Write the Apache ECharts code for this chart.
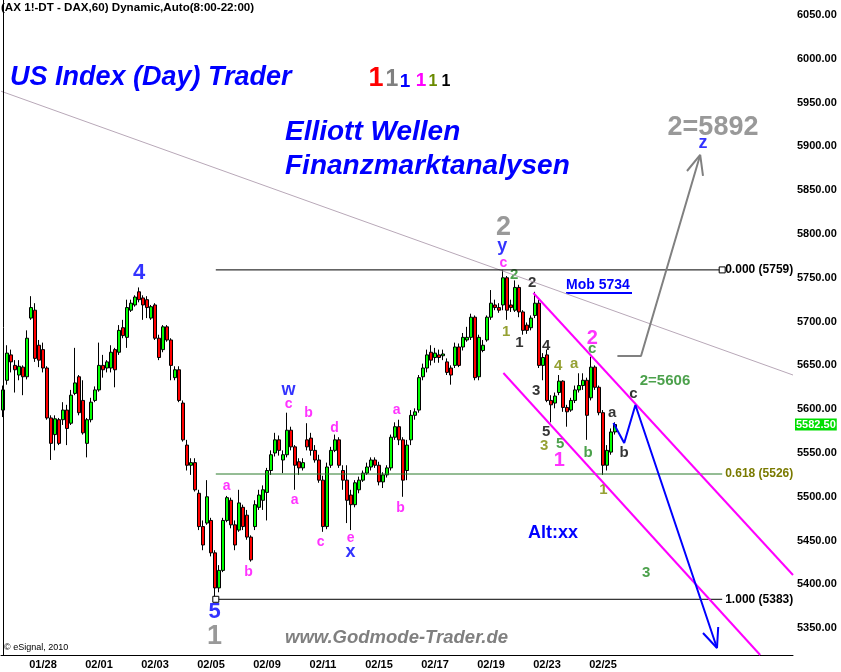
<!DOCTYPE html>
<html>
<head>
<meta charset="utf-8">
<title>DAX 60 - Elliott Wellen</title>
<script src="https://cdn.jsdelivr.net/npm/echarts@6.0.0/dist/echarts.min.js"></script>
<style>
  html, body { margin: 0; padding: 0; background: #fff; }
  #chart { width: 841px; height: 672px; }
</style>
</head>
<body>
<div id="chart"></div>
<script>
// 60-Minuten-Kerzen, ein Slot je Kerze (plus leerer Raum rechts fuer die Projektion)
const slotCount = 198
const dayLabels = ['01/28', '02/01', '02/03', '02/05', '02/09', '02/11', '02/15', '02/17', '02/19', '02/23', '02/25']
const dayLabelSlots = [10, 24, 38, 52, 66, 80, 94, 108, 122, 136, 150]
const priceTicks = [5350, 5400, 5450, 5500, 5550, 5600, 5650, 5700, 5750, 5800, 5850, 5900, 5950, 6000, 6050]
const priceMin = 5319.4
const priceMax = 6067.1
const lastPrice = 5582.5

// [open, close, low, high]
const ohlc = [
  [5599, 5622, 5591, 5627], [5633, 5664, 5628, 5673], [5662, 5654, 5642, 5668], [5650, 5645, 5619, 5656],
  [5639, 5649, 5633, 5656], [5648, 5637, 5616, 5650], [5637, 5681, 5634, 5690], [5704, 5716, 5702, 5729],
  [5713, 5658, 5654, 5721], [5673, 5656, 5648, 5679], [5668, 5647, 5642, 5676], [5647, 5590, 5588, 5649],
  [5590, 5561, 5542, 5593], [5571, 5589, 5553, 5593], [5588, 5561, 5559, 5590], [5588, 5599, 5582, 5608],
  [5599, 5578, 5559, 5605], [5584, 5616, 5582, 5622], [5618, 5630, 5616, 5670], [5637, 5596, 5593, 5639],
  [5610, 5573, 5571, 5633], [5561, 5588, 5545, 5590], [5588, 5608, 5585, 5613], [5610, 5622, 5608, 5626],
  [5622, 5650, 5620, 5676], [5650, 5645, 5636, 5662], [5647, 5654, 5642, 5656], [5647, 5665, 5642, 5673],
  [5668, 5645, 5625, 5670], [5665, 5690, 5662, 5696], [5693, 5684, 5681, 5702], [5682, 5716, 5670, 5725],
  [5713, 5721, 5711, 5725], [5719, 5728, 5717, 5730], [5734, 5725, 5722, 5739], [5727, 5719, 5702, 5730],
  [5725, 5716, 5704, 5729], [5704, 5717, 5702, 5719], [5719, 5681, 5679, 5721], [5681, 5659, 5656, 5685],
  [5668, 5694, 5665, 5696], [5694, 5679, 5677, 5696], [5679, 5650, 5633, 5681], [5636, 5645, 5633, 5649],
  [5645, 5610, 5608, 5649], [5607, 5565, 5563, 5610], [5559, 5536, 5530, 5565], [5536, 5539, 5525, 5544],
  [5539, 5508, 5506, 5544], [5504, 5466, 5462, 5508], [5466, 5445, 5439, 5473], [5470, 5500, 5468, 5519],
  [5473, 5436, 5432, 5476], [5436, 5396, 5384, 5439], [5396, 5416, 5391, 5422], [5416, 5473, 5414, 5476],
  [5473, 5499, 5471, 5501], [5496, 5468, 5464, 5499], [5468, 5445, 5439, 5473], [5462, 5493, 5460, 5508],
  [5488, 5466, 5462, 5491], [5479, 5454, 5451, 5485], [5454, 5428, 5426, 5456], [5466, 5491, 5462, 5496],
  [5488, 5502, 5485, 5508], [5496, 5508, 5485, 5513], [5505, 5530, 5473, 5533], [5530, 5548, 5525, 5553],
  [5550, 5565, 5546, 5573], [5565, 5553, 5547, 5570], [5542, 5548, 5527, 5553], [5548, 5576, 5545, 5596],
  [5576, 5557, 5553, 5580], [5557, 5536, 5508, 5559], [5540, 5533, 5525, 5544], [5533, 5539, 5530, 5544],
  [5565, 5557, 5553, 5584], [5567, 5553, 5547, 5573], [5553, 5542, 5539, 5559], [5542, 5519, 5516, 5548],
  [5519, 5466, 5460, 5524], [5466, 5534, 5463, 5539], [5536, 5553, 5533, 5557], [5553, 5565, 5551, 5571],
  [5565, 5536, 5533, 5568], [5530, 5519, 5508, 5536], [5519, 5496, 5470, 5536], [5502, 5491, 5462, 5508],
  [5491, 5516, 5488, 5519], [5508, 5519, 5504, 5523], [5519, 5527, 5517, 5530], [5527, 5534, 5525, 5539],
  [5534, 5542, 5530, 5545], [5542, 5536, 5533, 5545], [5536, 5517, 5513, 5540], [5517, 5525, 5510, 5528],
  [5525, 5533, 5522, 5536], [5533, 5568, 5530, 5571], [5568, 5580, 5565, 5585], [5580, 5565, 5559, 5588],
  [5565, 5519, 5500, 5568], [5530, 5559, 5519, 5565], [5565, 5593, 5559, 5599], [5593, 5597, 5588, 5601],
  [5599, 5636, 5596, 5639], [5637, 5647, 5633, 5652], [5647, 5662, 5642, 5668], [5665, 5656, 5650, 5673],
  [5659, 5664, 5653, 5670], [5662, 5659, 5653, 5668], [5661, 5663, 5656, 5668], [5654, 5642, 5639, 5658],
  [5647, 5639, 5628, 5650], [5650, 5671, 5647, 5676], [5671, 5650, 5648, 5675], [5671, 5682, 5667, 5687],
  [5679, 5682, 5677, 5694], [5682, 5705, 5679, 5709], [5705, 5636, 5633, 5707], [5637, 5682, 5633, 5685],
  [5667, 5673, 5665, 5679], [5679, 5705, 5677, 5707], [5705, 5721, 5702, 5736], [5719, 5716, 5713, 5725],
  [5716, 5713, 5710, 5721], [5719, 5750, 5713, 5759], [5750, 5713, 5702, 5752], [5719, 5716, 5711, 5725],
  [5713, 5739, 5711, 5747], [5739, 5711, 5705, 5742], [5711, 5690, 5685, 5713], [5696, 5690, 5686, 5699],
  [5693, 5704, 5690, 5707], [5707, 5721, 5704, 5734], [5721, 5650, 5647, 5725], [5650, 5659, 5633, 5664],
  [5662, 5610, 5608, 5668], [5610, 5605, 5585, 5616], [5607, 5615, 5601, 5619], [5619, 5632, 5616, 5639],
  [5632, 5602, 5597, 5633], [5602, 5597, 5580, 5605], [5599, 5610, 5597, 5613], [5610, 5622, 5607, 5627],
  [5622, 5627, 5619, 5641], [5627, 5633, 5622, 5641], [5633, 5593, 5565, 5636], [5613, 5648, 5610, 5660],
  [5648, 5625, 5622, 5650], [5625, 5596, 5593, 5627], [5596, 5536, 5525, 5599], [5536, 5553, 5530, 5559],
  [5551, 5574, 5548, 5578], [5574, 5582.5, 5571, 5585]
]

// Fibonacci-Retracements
const fibRatios = ['0.000', '0.618', '1.000']
const fibValues = [5759, 5526, 5383]
const fibFrom = 53.2
const fibTo = 179.8

// Linien: [slot, kurs]
const trendLine = [[-0.5, 5963], [197.5, 5639]]
const channelUpper = [[132.6, 5732.6], [197.5, 5410.7]]
const channelLower = [[125.1, 5641.3], [189.3, 5319.4]]
const projUp = [[153.6, 5660.7], [159.5, 5660.7], [174.3, 5890.2]]
const projUpHead = [[171.0, 5871.9], [174.3, 5890.2], [175.0, 5866.2]]
const projDown = [[152.6, 5584.2], [155.3, 5561.4], [158.1, 5604.8], [178.5, 5327.4]]
const projDownHead = [[175.0, 5344.5], [178.5, 5327.4], [178.8, 5351.3]]

// Wellenzaehlung: [slot, kurs, text]
const wavesMagenta = [
  [55.9, 5512, 'a'], [61.4, 5414, 'b'], [71.4, 5606, 'c'], [72.9, 5496, 'a'], [76.4, 5596, 'b'],
  [79.4, 5448, 'c'], [82.9, 5578, 'd'], [86.9, 5453, 'e'], [98.4, 5599, 'a'], [99.4, 5487, 'b'],
  [125.1, 5767, 'c']
]
const wavesMagentaBig = [[139.1, 5542, '1'], [147.3, 5681, '2']]
const wavesBlue = [[71.4, 5622, 'w'], [86.9, 5437, 'x'], [124.8, 5786, 'y'], [175.0, 5904, 'z']]
const wavesBlueBig = [[34.0, 5755, '4'], [52.9, 5368, '5']]
const wavesGray = [[52.9, 5341, '1'], [125.1, 5807, '2'], [177.5, 5922, '2=5892']]
const wavesBlack = [
  [132.3, 5744, '2'], [129.1, 5676, '1'], [135.8, 5672, '4'], [133.3, 5621, '3'], [135.8, 5574, '5'],
  [152.3, 5596, 'a'], [155.3, 5550, 'b'], [157.6, 5617, 'c']
]
const wavesGreen = [
  [127.8, 5753, '2'], [139.3, 5560, '5'], [147.3, 5669, 'c'], [146.3, 5550, 'b'], [160.8, 5413, '3'],
  [165.5, 5632, '2=5606']
]
const wavesOlive = [
  [125.8, 5688, '1'], [138.8, 5650, '4'], [142.8, 5652, 'a'], [135.3, 5558, '3'], [150.1, 5508, '1']
]

const slotNames = []
for (let i = 0; i < slotCount; i++) {
  const k = dayLabelSlots.indexOf(i)
  slotNames.push(k >= 0 ? dayLabels[k] : '')
}

function lineSeries(data, color, width) {
  return {
    type: 'line',
    xAxisIndex: 1,
    data: data,
    symbol: 'none',
    silent: true,
    animation: false,
    lineStyle: { color: color, width: width }
  }
}

function waveSeries(data, color, size) {
  return {
    type: 'scatter',
    xAxisIndex: 1,
    data: data,
    symbolSize: 1,
    silent: true,
    animation: false,
    itemStyle: { color: 'rgba(0,0,0,0)' },
    label: {
      show: true,
      position: 'inside',
      formatter: p => p.data[2],
      color: color,
      fontSize: size,
      fontWeight: 'bold',
      fontFamily: 'Arial'
    }
  }
}

function text(x, y, str, font, fill, align) {
  return {
    type: 'text',
    x: x,
    y: y,
    style: { text: str, font: font, fill: fill, textAlign: align || 'left', textVerticalAlign: 'middle' }
  }
}

const fibColors = ['#000000', '#7a7a00', '#000000']
const fibLineColors = ['#000000', '#2a7a2a', '#000000']
const fibSeries = fibValues.map((v, k) => {
  const s = lineSeries([[fibFrom, v], [fibTo, v]], fibLineColors[k], 1)
  s.showSymbol = true
  s.data = [
    { value: [fibFrom, v], symbol: k === 2 ? 'rect' : 'none', symbolSize: 6 },
    { value: [fibTo, v], symbol: k === 0 ? 'rect' : 'none', symbolSize: 6 }
  ]
  s.itemStyle = { color: '#fff', borderColor: '#000', borderWidth: 1 }
  s.endLabel = {
    show: true,
    formatter: () => fibRatios[k] + ' (' + v + ')',
    color: fibColors[k],
    fontSize: 12,
    fontWeight: 'bold',
    fontFamily: 'Arial',
    distance: 3
  }
  return s
})

const chart = echarts.init(document.getElementById('chart'))

chart.setOption({
  animation: false,
  backgroundColor: '#fff',
  grid: { left: 0, right: 48, top: 0, bottom: 17, containLabel: false },
  xAxis: [
    {
      type: 'category',
      data: slotNames,
      boundaryGap: true,
      axisLine: { lineStyle: { color: '#000', width: 1 } },
      axisTick: { show: false },
      splitLine: { show: false },
      axisLabel: {
        interval: 0,
        color: '#000',
        fontSize: 11,
        fontWeight: 'bold',
        fontFamily: 'Arial',
        margin: 4
      }
    },
    { type: 'value', min: -0.5, max: slotCount - 0.5, show: false }
  ],
  yAxis: {
    type: 'value',
    position: 'right',
    min: priceMin,
    max: priceMax,
    z: 10,
    axisLine: { show: true, lineStyle: { color: '#000', width: 1 } },
    axisTick: { show: false },
    splitLine: { show: false },
    axisLabel: {
      customValues: priceTicks,
      formatter: v => v.toFixed(2),
      color: '#000',
      fontSize: 11,
      fontWeight: 'bold',
      fontFamily: 'Arial',
      margin: 4
    },
    axisPointer: {
      show: true,
      type: 'line',
      value: lastPrice,
      status: 'show',
      triggerTooltip: false,
      lineStyle: { color: 'rgba(0,0,0,0)', width: 0 },
      label: {
        show: true,
        formatter: p => Number(p.value).toFixed(2),
        backgroundColor: '#00dd00',
        color: '#fff',
        fontSize: 11,
        fontWeight: 'bold',
        fontFamily: 'Arial',
        padding: [1, 1, 0, 1],
        margin: 2,
        borderRadius: 0,
        shadowBlur: 0
      }
    }
  },
  graphic: [
    // verdeckt die abgeschnittenen Fib-Texte rechts neben der Achse
    { type: 'rect', shape: { x: 794, y: 0, width: 47, height: 654 }, style: { fill: '#fff' }, z: 5, silent: true },
    text(1, 8, '(AX 1!-DT - DAX,60) Dynamic,Auto(8:00-22:00)', 'bold 11.6px Arial', '#000'),
    text(10, 78, 'US Index (Day) Trader', 'italic bold 27px Arial', '#0000ff'),
    text(376, 79, '1', 'bold 27px Arial', '#ff0000', 'center'),
    text(392, 80, '1', 'bold 23px Arial', '#808080', 'center'),
    text(405, 82, '1', 'bold 19px Arial', '#0000ff', 'center'),
    text(421, 81, '1', 'bold 19px Arial', '#ff00ff', 'center'),
    text(433, 82, '1', 'bold 16px Arial', '#6a8a00', 'center'),
    text(446, 82, '1', 'bold 16px Arial', '#000', 'center'),
    text(285, 132, 'Elliott Wellen', 'italic bold 28px Arial', '#0000ff'),
    text(285, 166, 'Finanzmarktanalysen', 'italic bold 28px Arial', '#0000ff'),
    text(566, 285, 'Mob 5734', 'bold 14px Arial', '#0000ff'),
    { type: 'line', shape: { x1: 566, y1: 293, x2: 632, y2: 293 }, style: { stroke: '#0000ff', lineWidth: 2 } },
    text(528, 533, 'Alt:xx', 'bold 18px Arial', '#0000ff'),
    text(285, 638, 'www.Godmode-Trader.de', 'italic bold 18.5px Arial', '#808080'),
    text(4, 648, '\u00a9 eSignal, 2010', '9px Arial', '#000')
  ],
  series: [
    lineSeries(trendLine, '#b8a8b8', 1),
    ...fibSeries,
    {
      type: 'candlestick',
      data: ohlc,
      barWidth: 3,
      silent: true,
      animation: false,
      itemStyle: {
        color: '#00ff00',
        color0: '#ff0000',
        borderColor: '#000',
        borderColor0: '#000',
        borderWidth: 1
      }
    },
    lineSeries(channelUpper, '#ff00ff', 2),
    lineSeries(channelLower, '#ff00ff', 2),
    lineSeries(projUp, '#808080', 2),
    lineSeries(projUpHead, '#808080', 2),
    lineSeries(projDown, '#0000ff', 2),
    lineSeries(projDownHead, '#0000ff', 2),
    waveSeries(wavesMagenta, '#ff00ff', 14),
    waveSeries(wavesMagentaBig, '#ff00ff', 20),
    waveSeries(wavesBlue, '#0000ff', 18),
    waveSeries(wavesBlueBig, '#0000ff', 22),
    waveSeries(wavesGray, '#808080', 27),
    waveSeries(wavesBlack, '#000000', 15),
    waveSeries(wavesGreen, '#1f8a1f', 15),
    waveSeries(wavesOlive, '#7a8a00', 15)
  ]
})
</script>
</body>
</html>
